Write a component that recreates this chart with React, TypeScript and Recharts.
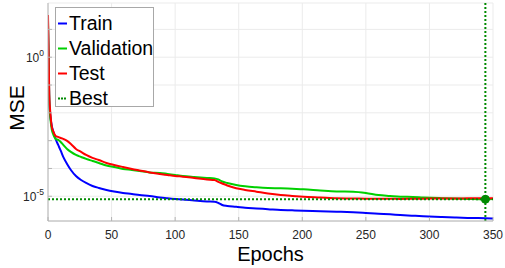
import React from 'react';
import {
  LineChart,
  Line,
  XAxis,
  YAxis,
  CartesianGrid,
  ReferenceLine,
  ReferenceDot,
} from 'recharts';

// epochs sampled from the training record
const epochs = [0, 1, 2, 3, 4, 5, 6, 8, 10, 12, 15, 18, 22, 26, 30, 35, 40, 46, 52, 59, 66, 72, 80, 88, 94, 100, 106, 115, 125, 131, 134, 137, 141, 148, 155, 164, 173, 183, 192, 201, 214, 227, 240, 250, 260, 269, 277, 287, 295, 310, 320, 330, 344, 350];

const trainMse = [14.5, 2.91e-2, 6.56e-3, 3.38e-3, 2.23e-3, 1.6e-3, 1.15e-3, 7.0e-4, 4.34e-4, 2.59e-4, 1.45e-4, 8.83e-5, 5.37e-5, 3.85e-5, 3.01e-5, 2.35e-5, 1.99e-5, 1.69e-5, 1.49e-5, 1.32e-5, 1.21e-5, 1.11e-5, 1.03e-5, 9.06e-6, 8.47e-6, 8.0e-6, 7.67e-6, 7.06e-6, 6.5e-6, 6.34e-6, 5.74e-6, 4.86e-6, 4.48e-6, 4.19e-6, 3.85e-6, 3.64e-6, 3.44e-6, 3.21e-6, 3.13e-6, 3.03e-6, 2.91e-6, 2.79e-6, 2.65e-6, 2.51e-6, 2.37e-6, 2.25e-6, 2.12e-6, 2.0e-6, 1.92e-6, 1.8e-6, 1.73e-6, 1.67e-6, 1.62e-6, 1.59e-6];

const valMse = [22, 2.91e-2, 5.56e-3, 2.43e-3, 1.74e-3, 1.36e-3, 1.15e-3, 1.06e-3, 8.97e-4, 7.0e-4, 5.02e-4, 3.93e-4, 3.06e-4, 2.59e-4, 2.2e-4, 1.86e-4, 1.58e-4, 1.28e-4, 1.13e-4, 9.6e-5, 8.83e-5, 8.13e-5, 7.18e-5, 6.89e-5, 6.34e-5, 5.83e-5, 5.37e-5, 4.94e-5, 4.55e-5, 4.37e-5, 4.02e-5, 3.4e-5, 3.01e-5, 2.55e-5, 2.29e-5, 2.11e-5, 1.99e-5, 1.94e-5, 1.86e-5, 1.79e-5, 1.62e-5, 1.49e-5, 1.46e-5, 1.32e-5, 1.11e-5, 1.03e-5, 9.68e-6, 9.44e-6, 9.06e-6, 8.55e-6, 8.26e-6, 8.05e-6, 7.8e-6, 7.93e-6];

const testMse = [33, 4.4e-2, 8.4e-3, 3.11e-3, 2.23e-3, 1.74e-3, 1.48e-3, 1.36e-3, 1.25e-3, 1.15e-3, 9.75e-4, 7.6e-4, 5.02e-4, 3.93e-4, 3.06e-4, 2.39e-4, 2.02e-4, 1.58e-4, 1.34e-4, 1.13e-4, 9.6e-5, 8.47e-5, 7.18e-5, 6.34e-5, 5.83e-5, 5.37e-5, 5.07e-5, 4.55e-5, 4.02e-5, 3.85e-5, 3.27e-5, 2.88e-5, 2.44e-5, 1.94e-5, 1.69e-5, 1.46e-5, 1.26e-5, 1.11e-5, 1.03e-5, 9.68e-6, 9.06e-6, 8.47e-6, 8.34e-6, 8.2e-6, 8.13e-6, 8.13e-6, 8.0e-6, 8.13e-6, 8.2e-6, 8.34e-6, 8.34e-6, 8.4e-6, 8.47e-6, 8.47e-6];

const bestEpoch = 344;
const bestMse = 7.8e-6;

const xTicks = [0, 50, 100, 150, 200, 250, 300, 350];
const yTicks = [1e-5, 1e-4, 1e-3, 1e-2, 1e-1, 1, 10];
const yLabelled: Record<string, string> = { '1': '0', '0.00001': '-5' };

const series = [
  { key: 'train', name: 'Train', color: '#0000ff' },
  { key: 'validation', name: 'Validation', color: '#00d000' },
  { key: 'test', name: 'Test', color: '#ff0000' },
];
const bestColor = '#008a00';

const rows = epochs.map((epoch, i) => ({
  epoch,
  train: trainMse[i],
  validation: valMse[i],
  test: testMse[i],
}));

const FONT = '"Liberation Sans", Arial, Helvetica, sans-serif';
const BOX = '#b4b4b4';
const GRID = '#ebebeb';

const YTick = (props: any) => {
  const { x, y, payload } = props;
  const exp = yLabelled[String(payload.value)];
  if (exp === undefined) return null;
  return (
    <text x={x} y={y + 5} textAnchor="end" fontSize={12} fill="#262626" fontFamily={FONT}>
      10<tspan dy={-6} fontSize={8.5}>{exp}</tspan>
    </text>
  );
};

export default function App() {
  return (
    <div style={{ position: 'absolute', left: 0, top: 0, width: 505, height: 268, background: '#fff', fontFamily: FONT }}>
      <LineChart
        width={505}
        height={268}
        data={rows}
        margin={{ top: 3, right: 12, bottom: 17, left: 8 }}
      >
        <CartesianGrid stroke={GRID} strokeWidth={1} />
        <XAxis
          dataKey="epoch"
          type="number"
          domain={[0, 350]}
          ticks={xTicks}
          allowDataOverflow
          height={30}
          stroke={BOX}
          tickSize={-4}
          tickMargin={13}
          tick={{ fontSize: 12, fill: '#262626', fontFamily: FONT }}
          label={(p: any) => {
            const vb = p.viewBox;
            return (
              <text x={vb.x + vb.width / 2} y={261} textAnchor="middle" fontSize={20} fill="#000" fontFamily={FONT}>
                Epochs
              </text>
            );
          }}
        />
        <XAxis
          xAxisId="top"
          orientation="top"
          dataKey="epoch"
          type="number"
          domain={[0, 350]}
          ticks={xTicks}
          allowDataOverflow
          height={0}
          stroke={BOX}
          tickSize={-4}
          tick={false}
        />
        <YAxis
          scale="log"
          type="number"
          domain={[1.29e-6, 89]}
          ticks={yTicks}
          allowDataOverflow
          width={40}
          stroke={BOX}
          tickSize={-4}
          tickMargin={8}
          tick={<YTick />}
          label={() => (
            <text
              x={16}
              y={108}
              transform="rotate(-90 16 108)"
              textAnchor="middle"
              dominantBaseline="central"
              fontSize={21}
              fill="#000"
              fontFamily={FONT}
            >
              MSE
            </text>
          )}
        />
        <YAxis
          yAxisId="right"
          orientation="right"
          scale="log"
          type="number"
          domain={[1.29e-6, 89]}
          ticks={yTicks}
          allowDataOverflow
          width={0}
          stroke={BOX}
          tickSize={-4}
          tick={false}
        />
        {series.map((s) => (
          <Line
            key={s.key}
            dataKey={s.key}
            name={s.name}
            type="monotone"
            stroke={s.color}
            strokeWidth={2}
            dot={false}
            isAnimationActive={false}
          />
        ))}
        <ReferenceLine y={bestMse} stroke={bestColor} strokeWidth={2} strokeDasharray="2 2" />
        <ReferenceLine x={bestEpoch} stroke={bestColor} strokeWidth={2} strokeDasharray="2 2" />
        <ReferenceDot x={bestEpoch} y={bestMse} r={4} fill={bestColor} stroke={bestColor} strokeWidth={1} />
      </LineChart>

      <div
        style={{
          position: 'absolute',
          left: 55,
          top: 7,
          width: 99,
          height: 100,
          background: '#fff',
          border: '1px solid #a8a8a8',
          fontSize: 19.5,
          lineHeight: '25px',
          color: '#000',
          paddingTop: 3,
          boxSizing: 'border-box',
        }}
      >
        {[...series, { key: 'best', name: 'Best', color: bestColor }].map((s) => (
          <div key={s.key} style={{ display: 'flex', alignItems: 'center', height: 25 }}>
            <svg width={13} height={25} style={{ flex: 'none' }}>
              <line
                x1={2}
                x2={11}
                y1={12.5}
                y2={12.5}
                stroke={s.color}
                strokeWidth={2}
                strokeDasharray={s.key === 'best' ? '2 1' : undefined}
              />
            </svg>
            <span>{s.name}</span>
          </div>
        ))}
      </div>
    </div>
  );
}
